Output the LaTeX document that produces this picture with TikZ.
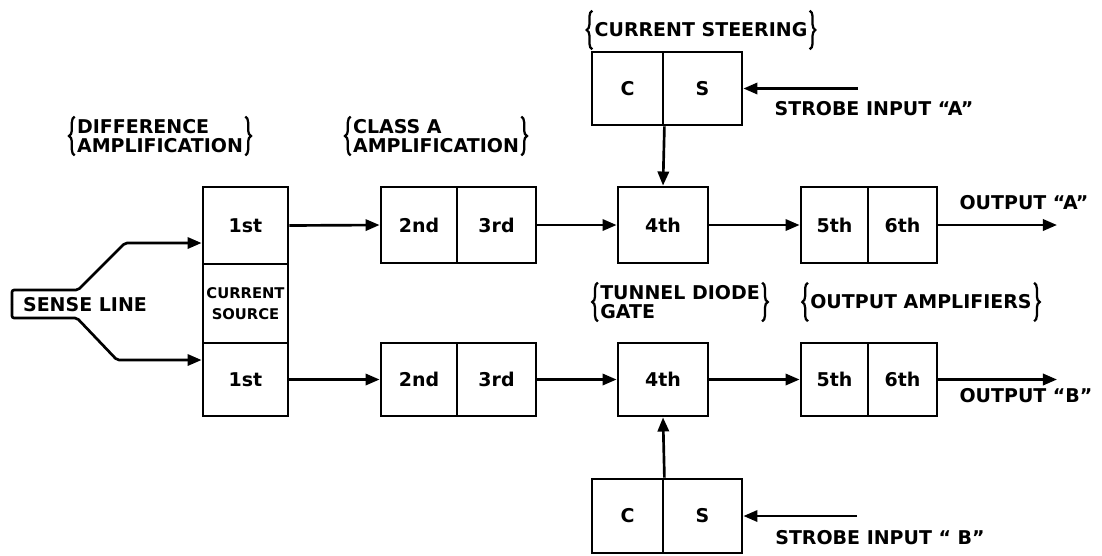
\documentclass[tikz,border=0pt]{standalone}
\usepackage{fontspec}
\setmainfont{DejaVu Sans}
\usetikzlibrary{arrows.meta,decorations.pathreplacing,calc}
\newdimen\pxu
\pxu=0.025cm
\begin{document}
\begin{tikzpicture}[x=0.025cm,y=-0.025cm,
  every node/.style={font=\bfseries\fontsize{13.5}{14}\selectfont},
  bx/.style 2 args={draw, line width=2pt, inner sep=0pt, minimum width=#1*\pxu, minimum height=#2*\pxu},
  arr/.style={line width=1.9pt, -{Triangle[length=10pt,width=8pt]}},
  lbl/.style={inner sep=1.5pt, align=left},
  lbrace/.style={line width=1.6pt, decorate, decoration={brace, amplitude=4pt}},
]
\useasboundingbox (0,0) rectangle (1102,555);

% stage boxes
\node[bx={85}{77}] (b1a) at (245.5,225.5) {1st};
\node[bx={85}{79}, font=\bfseries\fontsize{10.5}{15}\selectfont, align=center] (cs) at (245.5,303.5) {CURRENT\\SOURCE};
\node[bx={85}{73}] (b1b) at (245.5,379.5) {1st};

\node[bx={76}{76}] (b2a) at (419,225) {2nd};
\node[bx={79}{76}] (b3a) at (496.5,225) {3rd};
\node[bx={90}{76}] (b4a) at (663,225) {4th};
\node[bx={67}{76}] (b5a) at (834.5,225) {5th};
\node[bx={69}{76}] (b6a) at (902.5,225) {6th};

\node[bx={76}{73}] (b2b) at (419,379.5) {2nd};
\node[bx={79}{73}] (b3b) at (496.5,379.5) {3rd};
\node[bx={90}{73}] (b4b) at (663,379.5) {4th};
\node[bx={67}{73}] (b5b) at (834.5,379.5) {5th};
\node[bx={69}{73}] (b6b) at (902.5,379.5) {6th};

% current steering boxes
\node[bx={71}{73}] (cAc) at (627.5,88.5) {C};
\node[bx={79}{73}] (cAs) at (702.5,88.5) {S};
\node[bx={71}{74}] (cBc) at (627.5,516) {C};
\node[bx={79}{74}] (cBs) at (702.5,516) {S};

% sense line
\node[inner sep=0pt] (sense) at (85,305) {SENSE LINE};
\coordinate (sl) at (12,304);
\coordinate (st1) at (12,290);
\coordinate (st2) at (78,290);
\coordinate (st3) at (125,243);
\coordinate (sb1) at (12,318);
\coordinate (sb2) at (77,318);
\coordinate (sb3) at (117,360);
\draw[arr, rounded corners=1.5pt] (sl) -- (st1) -- (st2) -- (st3) -- (st3 -| b1a.west);
\draw[arr, rounded corners=1.5pt] (sl) -- (sb1) -- (sb2) -- (sb3) -- (sb3 -| b1b.west);

% signal flow
\draw[arr] (b1a.east) -- (b2a.west);
\draw[arr] (b3a.east) -- (b4a.west);
\draw[arr] (b4a.east) -- (b5a.west);
\draw[arr] (b1b.east) -- (b2b.west);
\draw[arr] (b3b.east) -- (b4b.west);
\draw[arr] (b4b.east) -- (b5b.west);

\coordinate (outA) at (1057,225);
\coordinate (outB) at (1057,379.5);
\draw[arr] (b6a.east) -- (outA);
\draw[arr] (b6b.east) -- (outB);

\draw[arr] (cAc.south east) -- (b4a.north);
\draw[arr] (cBc.north east) -- (b4b.south);

\coordinate (stA) at (858,88.5);
\coordinate (stB) at (857,516);
\draw[arr] (stA) -- (cAs.east);
\draw[arr] (stB) -- (cBs.east);

% text labels
\node[inner sep=0pt] (tA) at (874,109) {STROBE INPUT ``A''};
\node[inner sep=0pt] (tB) at (880,538) {STROBE INPUT `` B''};
\node[inner sep=0pt] (oA) at (1024,203) {OUTPUT ``A''};
\node[inner sep=0pt] (oB) at (1026,396) {OUTPUT ``B''};

% bracketed group labels
\node[lbl] (gDiff) at (160,136) {DIFFERENCE\\AMPLIFICATION};
\node[lbl] (gClass) at (436,136) {CLASS A\\AMPLIFICATION};
\node[lbl, minimum height=38*\pxu] (gCurr) at (701,30) {CURRENT STEERING};
\node[lbl] (gTun) at (680,302) {TUNNEL DIODE\\GATE};
\node[lbl, minimum height=38*\pxu] (gOut) at (921,302) {OUTPUT AMPLIFIERS};

\foreach \g in {gDiff,gClass,gCurr,gTun,gOut}{
  \draw[lbrace] (\g.south west) -- (\g.north west);
  \draw[lbrace] (\g.north east) -- (\g.south east);
}
\end{tikzpicture}
\end{document}
